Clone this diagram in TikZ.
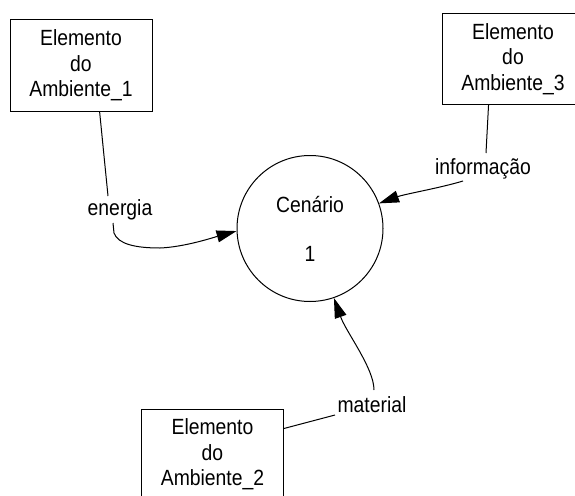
\documentclass[tikz,border=0pt]{standalone}
\usepackage{fontspec}
\setmainfont{Liberation Sans}[FakeStretch=0.88]
\usetikzlibrary{arrows.meta,calc}
\begin{document}
\begin{tikzpicture}[x=1pt,y=-1pt,
  every node/.style={font=\fontsize{22}{25.5}\selectfont, inner sep=0pt},
  entity/.style={draw, line width=1pt, rectangle, align=center, minimum width=142pt, minimum height=91pt},
  process/.style={draw, line width=1pt, circle, minimum size=146pt, align=center},
  flowlabel/.style={anchor=base},
  flow/.style={line width=1pt},
  arr/.style={-{Triangle[length=20pt,width=12pt]}}]
\clip (0,0) rectangle (575,495);
\node[entity] (b1) at (81,65.5) {Elemento\\do\\Ambiente\_1};
\node[entity] (b3) at (513,59) {Elemento\\do\\Ambiente\_3};
\node[entity] (b2) at (212.5,454.5) {Elemento\\do\\Ambiente\_2};
\node[process] (c) at (310,228.5) {Cenário\\[23.5pt]1};
\node[flowlabel] (e) at (120,215) {energia};
\node[flowlabel] (i) at (483,174) {informação};
\node[flowlabel] (m) at (372,412) {material};
% energia
\draw[flow] (b1.-68) -- ($(e.base)+(-12,-19)$);
\draw[flow,arr] ($(e.base)+(-7,8)$) -- (114,233) .. controls (118,244) and (135,248) .. (160,248) .. controls (185,247) and (215,237) .. (c.182);
% informacao
\draw[flow] (b3.242) -- ($(i.base)+(3,-21)$);
\draw[flow,arr] ($(i.base)+(-20,7)$) .. controls (440,188) and (405,194) .. (c.20);
% material
\draw[flow] (b2.20) -- ($(m.base)+(-37,3)$);
\draw[flow,arr] ($(m.base)+(2,-22)$) .. controls (374,368) and (346,332) .. (c.-71);
\end{tikzpicture}
\end{document}
